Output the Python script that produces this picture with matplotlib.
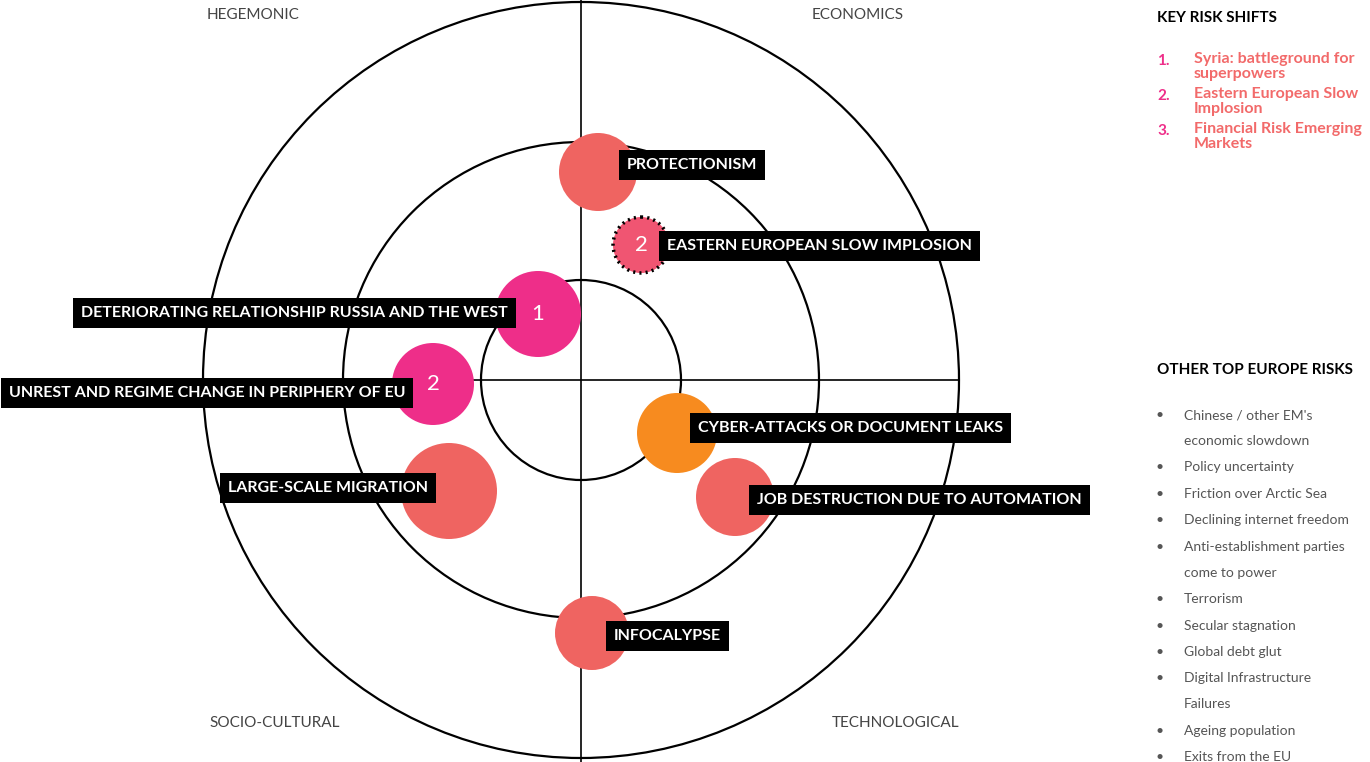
import matplotlib.pyplot as plt
from matplotlib.patches import Circle

plt.rcParams['font.family'] = ['Lato', 'DejaVu Sans']

# risk bubbles: pixel-space centre, radius, colour, number, label
risk_labels = ["PROTECTIONISM", "EASTERN EUROPEAN SLOW IMPLOSION",
               "DETERIORATING RELATIONSHIP RUSSIA AND THE WEST",
               "UNREST AND REGIME CHANGE IN PERIPHERY OF EU",
               "CYBER-ATTACKS OR DOCUMENT LEAKS",
               "JOB DESTRUCTION DUE TO AUTOMATION",
               "LARGE-SCALE MIGRATION", "INFOCALYPSE"]
risk_x = [598, 641, 538, 433, 677, 735, 449, 592]
risk_y = [172, 245, 314, 384, 433, 497, 491, 633]
risk_r = [39, 28, 43, 41, 40, 39, 48, 37]
risk_colors = ["#ef6461", "#f05572", "#ee2e89", "#ee2e89", "#f78b1f",
               "#ef6461", "#ef6461", "#ef6461"]
risk_nums = ["", "2", "1", "2", "", "", "", ""]
label_x = [618, 658, 72, 0, 689, 748, 219, 605]
label_y = [165, 246, 313, 393, 428, 500, 488, 636]

quadrants = ["HEGEMONIC", "ECONOMICS", "SOCIO-CULTURAL", "TECHNOLOGICAL"]
quad_x = [253, 858, 275, 896]
quad_y = [15, 15, 723, 723]

ring_r = [100, 238, 378]
cx, cy = 581, 380

shift_items = ["Syria: battleground for\nsuperpowers",
               "Eastern European Slow\nImplosion",
               "Financial Risk Emerging\nMarkets"]
other_risks = ["Chinese / other EM's", "economic slowdown", "Policy uncertainty",
               "Friction over Arctic Sea", "Declining internet freedom",
               "Anti-establishment parties", "come to power", "Terrorism",
               "Secular stagnation", "Global debt glut",
               "Digital Infrastructure", "Failures", "Ageing population",
               "Exits from the EU"]
other_bullet = [1, 0, 1, 1, 1, 1, 0, 1, 1, 1, 1, 0, 1, 1]
other_y = [415, 441, 467, 494, 520, 547, 573, 599, 626, 652, 678, 704, 731, 757]

fig = plt.figure(figsize=(13.7, 7.62), dpi=100)
ax = fig.add_axes([0, 0, 1, 1])
ax.set_xlim(0, 1370)
ax.set_ylim(762, 0)
ax.set_aspect('equal')
ax.axis('off')

for r in ring_r:
    ax.add_patch(Circle((cx, cy), r, fill=False, lw=1.6, ec='black'))
ax.plot([cx, cx], [0, 762], color='black', lw=1.2)
ax.plot([cx - ring_r[2], cx + ring_r[2]], [cy, cy], color='black', lw=1.2)

for q, x, y in zip(quadrants, quad_x, quad_y):
    ax.text(x, y, q, ha='center', va='center', fontsize=11, color='#444444')

for i in range(len(risk_labels)):
    ax.add_patch(Circle((risk_x[i], risk_y[i]), risk_r[i], color=risk_colors[i],
                        ec='none', zorder=3))
    if i == 1:
        ax.add_patch(Circle((risk_x[i], risk_y[i]), risk_r[i], fill=False,
                            ec='black', lw=2.5, ls=(0, (0.6, 1.2)), zorder=4))
    if risk_nums[i]:
        ax.text(risk_x[i], risk_y[i], risk_nums[i], ha='center', va='center',
                color='white', fontsize=16, zorder=6)
    ax.text(label_x[i] + 9, label_y[i], risk_labels[i], ha='left', va='center',
            color='white', fontsize=11.5, fontweight='bold', zorder=5,
            bbox=dict(boxstyle='square,pad=0.5', fc='black', ec='none'))

ax.text(1157, 18, "KEY RISK SHIFTS", ha='left', va='center', fontsize=11,
        fontweight='bold', color='black')
for i, item in enumerate(shift_items):
    y = 61 + 35 * i
    ax.text(1157, y, f"{i + 1}.", ha='left', va='center', fontsize=11,
            fontweight='bold', color='#ee2e89')
    ax.text(1194, y - 9, item, ha='left', va='top', fontsize=11.5,
            fontweight='bold', color='#f26a6a', linespacing=1.05)

ax.text(1157, 370, "OTHER TOP EUROPE RISKS", ha='left', va='center', fontsize=11,
        fontweight='bold', color='black')
for t, b, y in zip(other_risks, other_bullet, other_y):
    if b:
        ax.text(1160, y, "•", ha='center', va='center', fontsize=10, color='#555555')
    ax.text(1184, y, t, ha='left', va='center', fontsize=10, color='#555555')

fig.savefig("out.png", dpi=100)
